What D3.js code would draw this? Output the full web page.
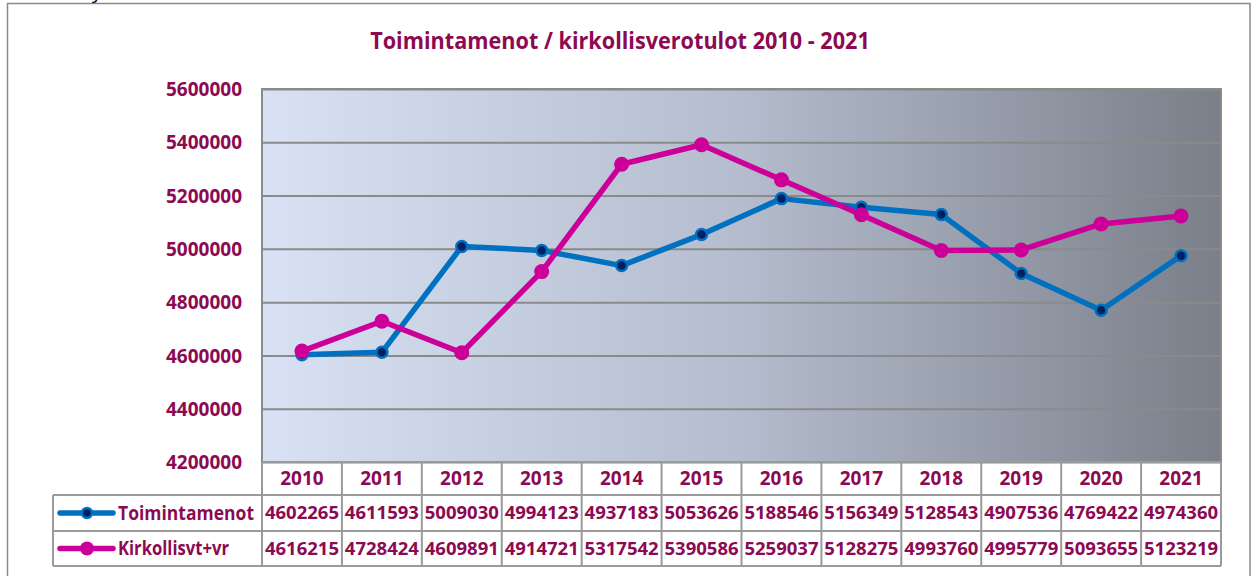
<!DOCTYPE html>
<html><head><meta charset="utf-8">
<script src="https://cdn.jsdelivr.net/npm/d3@7"></script>
<style>
html,body{margin:0;padding:0;background:#fff;}
svg{display:block;}
text{font-family:"Open Sans",sans-serif;font-weight:700;}
</style></head>
<body>
<svg id="c" width="1252" height="576"></svg>
<script>
const title = "Toimintamenot / kirkollisverotulot 2010 - 2021";
const years = ["2010","2011","2012","2013","2014","2015","2016","2017","2018","2019","2020","2021"];
const seriesNames = ["Toimintamenot","Kirkollisvt+vr"];
const toimintamenot = [4602265,4611593,5009030,4994123,4937183,5053626,5188546,5156349,5128543,4907536,4769422,4974360];
const kirkollisvero = [4616215,4728424,4609891,4914721,5317542,5390586,5259037,5128275,4993760,4995779,5093655,5123219];
const yTicks = [4200000,4400000,4600000,4800000,5000000,5200000,5400000,5600000];

const txtCol = "#8c0a52";
const blue = "#0070c0", navy = "#002060", pink = "#cc0099";
const svg = d3.select("#c");

// outer frame
svg.append("rect").attr("x",7.5).attr("y",3.5).attr("width",1242.5).attr("height",600)
  .attr("fill","none").attr("stroke","#8a8a8a").attr("stroke-width",1.5);
svg.append("text").attr("x",92).attr("y",-2).attr("font-size",20).attr("fill","#000")
  .style("font-weight",400).text("y");

const L=262, R=1221, T=89, B=462;
const x = d3.scaleBand().domain(years).range([L,R]);
const y = d3.scaleLinear().domain([4200000,5600000]).range([B,T]);

// gradient
const defs = svg.append("defs");
const g = defs.append("linearGradient").attr("id","bg").attr("x1","0").attr("x2","1").attr("y1","0").attr("y2","0");
g.append("stop").attr("offset","0").attr("stop-color","#d8e2f4");
g.append("stop").attr("offset","0.5").attr("stop-color","#b4bccd");
g.append("stop").attr("offset","1").attr("stop-color","#7a7f89");
svg.append("rect").attr("x",L).attr("y",T).attr("width",R-L).attr("height",B-T).attr("fill","url(#bg)");

// gridlines
const grid = svg.append("g").attr("transform",`translate(${L},0)`)
  .call(d3.axisLeft(y).tickValues(yTicks).tickSize(-(R-L)).tickFormat(""));
grid.select(".domain").remove();
grid.selectAll("line").attr("stroke","#8a8a8a").attr("stroke-width",2);

// plot border
svg.append("path").attr("d",`M${L},${B}V${T}H${R}V${B}`).attr("fill","none")
  .attr("stroke","#8a8a8a").attr("stroke-width",2);

// y labels
const ya = svg.append("g").attr("transform",`translate(${L-20},0)`)
  .call(d3.axisLeft(y).tickValues(yTicks).tickSize(0).tickPadding(0).tickFormat(d3.format("d")));
ya.select(".domain").remove();
ya.selectAll("text").attr("fill",txtCol).attr("font-size",19)
  .style("font-family","'Open Sans',sans-serif").style("font-weight",700).attr("dy","0.35em");

// title (sized to cap height, then narrowed to the reference width)
const tt = svg.append("text").attr("x",0).attr("y",0).attr("text-anchor","middle")
  .attr("fill",txtCol).attr("font-size",23.5).text(title);
const tw = tt.node().getComputedTextLength();
tt.attr("transform",`translate(620,49) scale(${500/tw},1)`);

// lines
const cx = d => x(d)+x.bandwidth()/2;
const line = d3.line().x((d,i)=>cx(years[i])).y(d=>y(d));
svg.append("path").datum(toimintamenot).attr("d",line).attr("fill","none")
  .attr("stroke",blue).attr("stroke-width",5.5).attr("stroke-linejoin","round");
svg.append("path").datum(kirkollisvero).attr("d",line).attr("fill","none")
  .attr("stroke",pink).attr("stroke-width",5.5).attr("stroke-linejoin","round");
svg.selectAll(".mb").data(toimintamenot).join("circle")
  .attr("cx",(d,i)=>cx(years[i])).attr("cy",d=>y(d)).attr("r",5.5)
  .attr("fill",navy).attr("stroke",blue).attr("stroke-width",2.5);
svg.selectAll(".mp").data(kirkollisvero).join("circle")
  .attr("cx",(d,i)=>cx(years[i])).attr("cy",d=>y(d)).attr("r",7.5)
  .attr("fill",pink);

// table
const tb = {hTop:B, h1:495, h2:531, h3:566, left:53};
const tg = svg.append("g").attr("stroke","#9a9a9a").attr("stroke-width",2).attr("fill","none");
years.forEach(yr=>{
  tg.append("line").attr("x1",x(yr)).attr("x2",x(yr)).attr("y1",tb.hTop).attr("y2",tb.h3);
});
tg.append("line").attr("x1",R).attr("x2",R).attr("y1",tb.hTop).attr("y2",tb.h3);
tg.append("line").attr("x1",L).attr("x2",R).attr("y1",tb.hTop).attr("y2",tb.hTop);
[tb.h1,tb.h2,tb.h3].forEach(yy=>{
  tg.append("line").attr("x1",tb.left).attr("x2",R).attr("y1",yy).attr("y2",yy);
});
tg.append("line").attr("x1",tb.left).attr("x2",tb.left).attr("y1",tb.h1).attr("y2",tb.h3);

// year header via axis
const xa = svg.append("g").attr("transform",`translate(0,${(tb.hTop+tb.h1)/2})`)
  .call(d3.axisBottom(x).tickSize(0).tickPadding(0));
xa.select(".domain").remove();
xa.selectAll("text").attr("fill",txtCol).attr("font-size",19).attr("dy","0.35em")
  .style("font-family","'Open Sans',sans-serif").style("font-weight",700);

// value rows
const rows = [toimintamenot, kirkollisvero];
const rowY = [(tb.h1+tb.h2)/2, (tb.h2+tb.h3)/2];
rows.forEach((vals,ri)=>{
  svg.selectAll(".v"+ri).data(vals).join("text")
    .attr("x",(d,i)=>cx(years[i])).attr("y",rowY[ri]).attr("dy","0.35em")
    .attr("text-anchor","middle").attr("fill",txtCol).attr("font-size",18.5)
    .text(d=>d3.format("d")(d));
});

// legend
rows.forEach((vals,ri)=>{
  const yy = rowY[ri];
  svg.append("line").attr("x1",60).attr("x2",113).attr("y1",yy).attr("y2",yy)
    .attr("stroke",ri===0?blue:pink).attr("stroke-width",5.5).attr("stroke-linecap","round");
  if(ri===0){
    svg.append("circle").attr("cx",87).attr("cy",yy).attr("r",5).attr("fill",navy).attr("stroke",blue).attr("stroke-width",2.5);
  } else {
    svg.append("circle").attr("cx",87).attr("cy",yy).attr("r",7).attr("fill",pink);
  }
  const t = svg.append("text").attr("x",118).attr("y",yy).attr("dy","0.35em")
    .attr("fill",txtCol).attr("font-size",19.5).text(seriesNames[ri]);
  const w = t.node().getComputedTextLength();
  const target = ri===0?136:111;
  t.attr("textLength",target).attr("lengthAdjust","spacingAndGlyphs");
});
</script>
</body></html>
